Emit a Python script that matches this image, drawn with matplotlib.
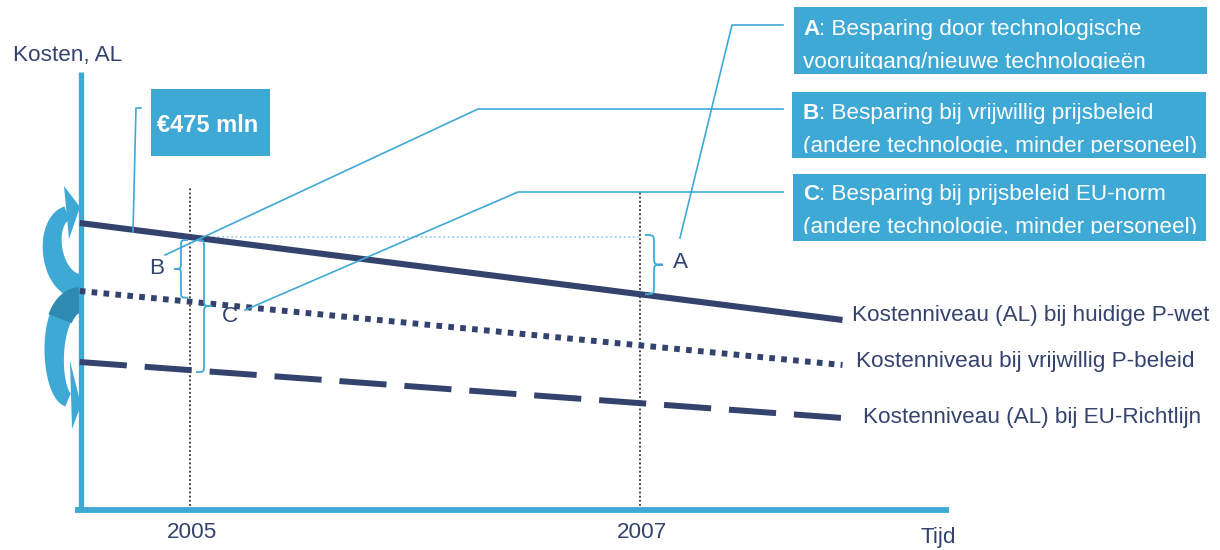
import matplotlib
matplotlib.use('Agg')
import numpy as np
import matplotlib.pyplot as plt
from matplotlib.patches import Rectangle, Polygon, PathPatch
from matplotlib.path import Path
from matplotlib.transforms import Affine2D, Bbox

# ---------------- data ----------------
line_years = [2004.51, 2007.90]
cost_current = [287, 190]      # Kostenniveau (AL) bij huidige P-wet
cost_voluntary = [219, 145]    # Kostenniveau bij vrijwillig P-beleid
cost_eu = [148, 92]            # Kostenniveau (AL) bij EU-Richtlijn
tick_years = [2005, 2007]
tick_labels = ['2005', '2007']
line_labels = ['Kostenniveau (AL) bij huidige P-wet',
               'Kostenniveau bij vrijwillig P-beleid',
               'Kostenniveau (AL) bij EU-Richtlijn']
box_keys = ['A', 'B', 'C']
box_line1 = [': Besparing door technologische',
             ': Besparing bij vrijwillig prijsbeleid',
             ': Besparing bij prijsbeleid EU-norm']
box_line2 = ['vooruitgang/nieuwe technologieën',
             '(andere technologie, minder personeel)',
             '(andere technologie, minder personeel)']
amount_label = '€475 mln'
y_label = 'Kosten, AL'
x_label = 'Tijd'

# ---------------- style ----------------
plt.rcParams['font.family'] = ['Liberation Sans', 'DejaVu Sans']
NAVY = '#34436E'
BLUE = '#3FA9D6'
DARKBLUE = '#2F8AB1'
FS = 16.2

W, H = 1220, 550
fig = plt.figure(figsize=(W / 100, H / 100), dpi=100)
ax = fig.add_axes([0, 0, 1, 1])
ax.set_xlim(2005 - 190 / 225, 2005 + 1030 / 225)
ax.set_ylim(-40, 510)
ax.axis('off')
pix = Affine2D().scale(1, -1).translate(0, H)   # top-left pixel coords


def interp(vals, yr):
    x0, x1 = line_years
    return vals[0] + (vals[1] - vals[0]) * (yr - x0) / (x1 - x0)


def to_pix(x, y):
    dx, dy = ax.transData.transform((x, y))
    return dx, H - dy


# ---------------- curved ribbon arrows on the left ----------------
def ribbon(P, w0, w1, color, t0=0.0, t1=1.0, z=2):
    P = np.asarray(P, float)
    t = np.linspace(t0, t1, 80)[:, None]
    B = ((1 - t) ** 3) * P[0] + 3 * ((1 - t) ** 2) * t * P[1] + 3 * (1 - t) * t ** 2 * P[2] + t ** 3 * P[3]
    D = 3 * ((1 - t) ** 2) * (P[1] - P[0]) + 6 * (1 - t) * t * (P[2] - P[1]) + 3 * t ** 2 * (P[3] - P[2])
    N = np.column_stack([-D[:, 1], D[:, 0]]) / np.linalg.norm(D, axis=1)[:, None]
    w = (w0 + (w1 - w0) * t) / 2
    left = B + N * w
    right = B - N * w
    ax.add_patch(Polygon(np.vstack([left, right[::-1]]), closed=True, transform=pix,
                         facecolor=color, edgecolor='none', zorder=z))


up_curve = [(80, 287), (49, 283), (43, 222), (67, 213)]
dn_curve = [(80, 300), (47, 302), (49, 392), (68, 400)]
ribbon(up_curve, 26, 14, BLUE)
ax.add_patch(Polygon([(64, 186), (80, 207), (69, 239)], closed=True, transform=pix,
                     facecolor=BLUE, edgecolor='none', zorder=2))
ribbon(dn_curve, 26, 14, BLUE)
ax.add_patch(Polygon([(70, 361), (81, 405), (72, 429)], closed=True, transform=pix,
                     facecolor=BLUE, edgecolor='none', zorder=2))
ribbon(dn_curve, 26, 22, DARKBLUE, 0.0, 0.28, z=2.5)

# ---------------- axes lines ----------------
x_axis = 2004.516
ax.plot([x_axis, x_axis], [-2, 438], color=BLUE, lw=3.8, solid_capstyle='butt', zorder=4)
ax.plot([2004.49, 2008.373], [0, 0], color=BLUE, lw=4.2, solid_capstyle='butt', zorder=4)
for yr, lab in zip(tick_years, tick_labels):
    ax.text(yr + 0.01, -22, lab, ha='center', va='center', fontsize=FS, color=NAVY)
ax.text(2008.324, -28, x_label, ha='center', va='center', fontsize=FS, color=NAVY)
ax.text(2005 - 177 / 225, 455, y_label, ha='left', va='center', fontsize=FS, color=NAVY)

# ---------------- reference verticals ----------------
ax.vlines(tick_years, 0, [322, 318], colors='#333333', lw=1.3,
          linestyles=[(0, (1, 1.3))], zorder=3)
ref_level = interp(cost_current, 2005)
ax.plot([2005.02, 2007], [ref_level, ref_level], color='#9AD3EE', lw=1.3,
        ls=(0, (1, 1.5)), zorder=3)

# ---------------- cost lines ----------------
ax.plot(line_years, cost_current, color=NAVY, lw=4.4, solid_capstyle='butt', zorder=5)
ax.plot(line_years, cost_voluntary, color=NAVY, lw=4.3, ls=(0, (0.95, 1.05)),
        dash_capstyle='butt', zorder=5)
ax.plot(line_years, cost_eu, color=NAVY, lw=4.3, ls=(0, (7.9, 3.0)),
        dash_capstyle='butt', zorder=5)

offs = [(9, 5), (13, 3), (20, 0)]
for vals, lab, off in zip([cost_current, cost_voluntary, cost_eu], line_labels, offs):
    ax.annotate(lab, xy=(line_years[-1], vals[-1]), xytext=off, textcoords='offset pixels',
                ha='left', va='center', fontsize=FS, color=NAVY)


# ---------------- braces ----------------
def brace(xb, y0, y1, w, side):
    xm = xb + side * w * 0.5
    xt = xb + side * w
    ym = (y0 + y1) / 2
    r = min(w * 0.5, (y1 - y0) / 4)
    verts = [(xb, y0), (xm, y0), (xm, y0), (xm, y0 + r),
             (xm, ym - r),
             (xm, ym), (xm, ym), (xt, ym),
             (xm, ym), (xm, ym), (xm, ym + r),
             (xm, y1 - r),
             (xm, y1), (xm, y1), (xb, y1)]
    C = Path.CURVE4
    codes = [Path.MOVETO, C, C, C, Path.LINETO, C, C, C, C, C, C, Path.LINETO, C, C, C]
    ax.add_patch(PathPatch(Path(verts, codes), transform=pix, fill=False,
                           edgecolor=BLUE, lw=1.3, zorder=6))


_, s05 = to_pix(2005, interp(cost_current, 2005))
_, v05 = to_pix(2005, interp(cost_voluntary, 2005))
_, e05 = to_pix(2005, interp(cost_eu, 2005))
_, s07 = to_pix(2007, interp(cost_current, 2007))
x05, _ = to_pix(2005, 0)
x07, _ = to_pix(2007, 0)
brace(x05 - 2, s05 + 3, v05 - 4, 14, -1)
brace(x05 + 6, s05 + 3, e05 + 2, 16, +1)
brace(x07 + 5, s05 - 2, s07, 18, +1)
ax.text(157, 268, 'B', transform=pix, ha='center', va='center', fontsize=FS, color=NAVY)
ax.text(230, 317, 'C', transform=pix, ha='center', va='center', fontsize=FS, color=NAVY)
ax.text(680, 262, 'A', transform=pix, ha='center', va='center', fontsize=FS, color=NAVY)

# ---------------- leader lines ----------------
leaders = [[(783, 25), (732, 25), (680, 238)],
           [(783, 109), (478, 109), (165, 255)],
           [(783, 192), (518, 192), (245, 310)],
           [(141, 108), (136, 108), (133, 232)]]
for pts in leaders:
    xs, ys = zip(*pts)
    ax.plot(xs, ys, transform=pix, color=BLUE, lw=1.2, zorder=7)

# ---------------- boxes ----------------
fig.canvas.draw()
renderer = fig.canvas.get_renderer()
boxes = [(794, 7, 1207, 74), (792, 92, 1206, 158), (793, 174, 1206, 241)]
base1 = [35, 119, 200]
for (x0, y0, x1, y1), key, l1, l2, b1 in zip(boxes, box_keys, box_line1, box_line2, base1):
    ax.add_patch(Rectangle((x0, y0), x1 - x0, y1 - y0, transform=pix,
                           facecolor=BLUE, edgecolor='none', zorder=8))
    t = ax.text(803, b1, key, transform=pix, ha='left', va='baseline', fontsize=FS,
                fontweight='bold', color='white', zorder=9)
    wkey = t.get_window_extent(renderer).width
    ax.text(803 + wkey, b1, l1, transform=pix, ha='left', va='baseline', fontsize=FS,
            color='white', zorder=9)
    t2 = ax.text(803, b1 + 33, l2, transform=pix, ha='left', va='baseline', fontsize=FS,
                 color='white', zorder=9)
    t2.set_clip_box(Bbox.from_extents(x0, H - (b1 + 34), x1, H - y0))
    t2.set_clip_on(True)

ax.add_patch(Rectangle((151, 89), 119, 67, transform=pix, facecolor=BLUE,
                       edgecolor='none', zorder=8))
ax.text(157, 132, amount_label, transform=pix, ha='left', va='baseline', fontsize=17,
        fontweight='bold', color='white', zorder=9)

fig.savefig('out.png', dpi=100, facecolor='white')
